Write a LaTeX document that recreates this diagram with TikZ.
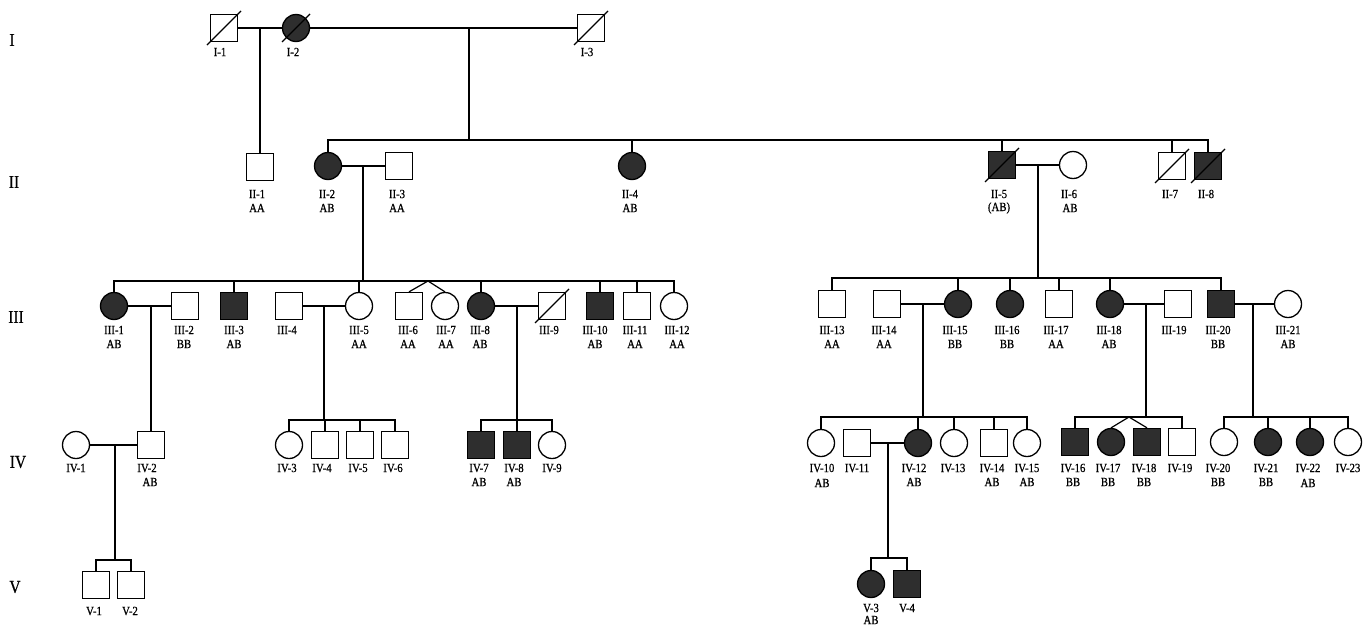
\documentclass[tikz,border=0pt]{standalone}
\usepackage{fontspec}
\setmainfont{Liberation Serif}[FakeStretch=0.86,FakeBold=0.6]
\begin{document}
\begin{tikzpicture}[x=1pt,y=-1pt,line width=1.2pt,
  msym/.style={draw,rectangle,minimum width=27pt,minimum height=27pt,inner sep=0pt,line width=1.3pt},
  fsym/.style={draw,circle,minimum size=27pt,inner sep=0pt,line width=1.3pt},
  aff/.style={fill=black!82},
  nm/.style={font=\fontsize{12.5}{13}\selectfont,inner sep=0pt},
  gt/.style={font=\fontsize{12.5}{13}\selectfont,inner sep=0pt},
  rowlab/.style={font=\fontsize{18}{19}\selectfont,inner sep=0pt},
  deadline/.style={line width=1.3pt}]
\useasboundingbox (0,0) rectangle (1368,627);
\fill[white] (0,0) rectangle (1368,627);

% ---- row labels
\node[rowlab] (rI)   at (12,40)  {I};
\node[rowlab] (rII)  at (14,182) {II};
\node[rowlab] (rIII) at (16,317) {III};
\node[rowlab] (rIV)  at (18,462) {IV};
\node[rowlab] (rV)   at (15,587) {V};

% ---- symbols
\foreach \n/\x/\y in {I1/224/28,I3/591/28,II1/260/167,II3/399/166,II7/1172/166,
  III2/185/306,III4/289/306,III6/409/306,III9/552/306,III11/637/306,
  III13/832/304,III14/887/304,III17/1059/304,III19/1178/304,
  IV2/151/445,IV4/325/445,IV5/360/445,IV6/395/445,IV11/857/443,IV14/994/443,IV19/1182/442,
  V1/96/585,V2/131/585}
  \node[msym] (\n) at (\x,\y) {};
\foreach \n/\x/\y in {II5/1002/165,II8/1208/166,III3/234/306,III10/600/306,III20/1221/304,
  IV7/481/445,IV8/517/445,IV16/1075/442,IV18/1147/442,V4/907/584}
  \node[msym,aff] (\n) at (\x,\y) {};
\foreach \n/\x/\y in {II6/1073/165,III5/359/306,III7/445/306,III12/674/306,III21/1288/304,
  IV1/76/445,IV3/289/445,IV9/552/445,IV10/821/443,IV13/954/443,IV15/1027/443,
  IV20/1224/442,IV23/1348/442}
  \node[fsym] (\n) at (\x,\y) {};
\foreach \n/\x/\y in {I2/296/28,II2/328/166,II4/632/166,III1/114/306,III8/481/306,
  III15/958/304,III16/1010/304,III18/1110/304,IV12/918/443,IV17/1111/442,
  IV21/1268/442,IV22/1310/442,V3/871/584}
  \node[fsym,aff] (\n) at (\x,\y) {};

% ---- deceased marks
\foreach \n in {I1,I3,II5,II7,II8,III9}
  \draw[deadline] ([shift={(-17,17)}]\n.center) -- ([shift={(17,-17)}]\n.center);
\draw[deadline] ([shift={(-14,14)}]I2.center) -- ([shift={(14,-14)}]I2.center);

% ---- marriage lines
\foreach \a/\b in {I1/I2,I2/I3,II2/II3,II5/II6,III1/III2,III4/III5,III8/III9,
  III14/III15,III18/III19,III20/III21,IV1/IV2,IV11/IV12}
  \draw (\a.east) -- (\b.west);

% ---- descent points
\coordinate (d1) at (260,28);
\coordinate (d2) at (469,28);
\coordinate (d3) at (363,166);
\coordinate (d4) at (1038,165);
\coordinate (d5) at (151,306);
\coordinate (d6) at (324,306);
\coordinate (d7) at (517,306);
\coordinate (d8) at (923,304);
\coordinate (d9) at (1146,304);
\coordinate (d10) at (1253,304);
\coordinate (d11) at (115,445);
\coordinate (d12) at (888,443);

\draw (d1) -- (II1.north);
\draw (d5) -- (IV2.north);

% generation II sibship
\coordinate (s2) at (469,140);
\draw (d2) -- (s2);
\draw (II2.north) -- (II2.north |- s2) -- (II8.north |- s2) -- (II8.north);
\foreach \k in {II4,II5,II7} \draw (\k.north) -- (\k.north |- s2);

% generation III left sibship
\coordinate (s3) at (363,281);
\draw (d3) -- (s3);
\draw (III1.north) -- (III1.north |- s3) -- (III12.north |- s3) -- (III12.north);
\foreach \k in {III3,III5,III8,III10,III11} \draw (\k.north) -- (\k.north |- s3);
\coordinate (t3) at (428,281);
\draw (III6.north) -- (t3) -- (III7.north);

% generation III right sibship
\coordinate (s4) at (1038,278);
\draw (d4) -- (s4);
\draw (III13.north) -- (III13.north |- s4) -- (III20.north |- s4) -- (III20.north);
\foreach \k in {III15,III16,III17,III18} \draw (\k.north) -- (\k.north |- s4);

% generation IV sibships
\coordinate (s5) at (324,420);
\draw (d6) -- (s5);
\draw (IV3.north) -- (IV3.north |- s5) -- (IV6.north |- s5) -- (IV6.north);
\foreach \k in {IV4,IV5} \draw (\k.north) -- (\k.north |- s5);

\coordinate (s6) at (517,420);
\draw (d7) -- (s6);
\draw (IV7.north) -- (IV7.north |- s6) -- (IV9.north |- s6) -- (IV9.north);
\draw (IV8.north) -- (IV8.north |- s6);

\coordinate (s7) at (923,417);
\draw (d8) -- (s7);
\draw (IV10.north) -- (IV10.north |- s7) -- (IV15.north |- s7) -- (IV15.north);
\foreach \k in {IV12,IV13,IV14} \draw (\k.north) -- (\k.north |- s7);

\coordinate (s8) at (1146,417);
\draw (d9) -- (s8);
\draw (IV16.north) -- (IV16.north |- s8) -- (IV19.north |- s8) -- (IV19.north);
\coordinate (t8) at (1129,417);
\draw (IV17.north) -- (t8) -- (IV18.north);

\coordinate (s9) at (1253,417);
\draw (d10) -- (s9);
\draw (IV20.north) -- (IV20.north |- s9) -- (IV23.north |- s9) -- (IV23.north);
\foreach \k in {IV21,IV22} \draw (\k.north) -- (\k.north |- s9);

% generation V sibships
\coordinate (s10) at (115,560);
\draw (d11) -- (s10);
\draw (V1.north) -- (V1.north |- s10) -- (V2.north |- s10) -- (V2.north);

\coordinate (s11) at (888,558);
\draw (d12) -- (s11);
\draw (V3.north) -- (V3.north |- s11) -- (V4.north |- s11) -- (V4.north);

% ---- identifiers
\foreach \n/\x/\y/\t in {lI1/220/52/I-1,lI2/293/52/I-2,lI3/587/52/I-3,
  lII1/257/194/II-1,lII2/327/194/II-2,lII3/397/194/II-3,lII4/630/194/II-4,
  lII5/999/194/II-5,lII6/1069/194/II-6,lII7/1170/194/II-7,lII8/1206/194/II-8,
  lIII1/114/330/III-1,lIII2/184/330/III-2,lIII3/234/330/III-3,lIII4/287/330/III-4,
  lIII5/359/330/III-5,lIII6/408/330/III-6,lIII7/446/330/III-7,lIII8/480/330/III-8,
  lIII9/549/330/III-9,lIII10/595/330/III-10,lIII11/635/330/III-11,lIII12/677/330/III-12,
  lIII13/832/330/III-13,lIII14/884/330/III-14,lIII15/955/330/III-15,lIII16/1007/330/III-16,
  lIII17/1056/330/III-17,lIII18/1109/330/III-18,lIII19/1174/330/III-19,lIII20/1218/330/III-20,
  lIII21/1288/330/III-21,
  lIV1/76/468/IV-1,lIV2/147/468/IV-2,lIV3/287/468/IV-3,lIV4/322/468/IV-4,lIV5/358/468/IV-5,
  lIV6/393/468/IV-6,lIV7/479/468/IV-7,lIV8/514/468/IV-8,lIV9/552/468/IV-9,
  lIV10/822/468/IV-10,lIV11/857/468/IV-11,lIV12/914/468/IV-12,lIV13/953/468/IV-13,
  lIV14/992/468/IV-14,lIV15/1027/468/IV-15,lIV16/1073/468/IV-16,lIV17/1108/468/IV-17,
  lIV18/1144/468/IV-18,lIV19/1180/468/IV-19,lIV20/1218/468/IV-20,lIV21/1266/468/IV-21,
  lIV22/1308/468/IV-22,lIV23/1348/468/IV-23,
  lV1/94/611/V-1,lV2/130/611/V-2,lV3/871/608/V-3,lV4/907/608/V-4}
  \node[nm] (\n) at (\x,\y) {\t};

% ---- genotypes
\foreach \n/\x/\y/\t in {gII1/257/208/AA,gII2/327/208/AB,gII3/397/208/AA,gII4/630/208/AB,
  gII5/999/208/(AB),gII6/1070/208/AB,
  gIII1/114/344/AB,gIII2/184/344/BB,gIII3/234/344/AB,gIII5/359/344/AA,gIII6/408/344/AA,
  gIII7/446/344/AA,gIII8/480/344/AB,gIII10/595/344/AB,gIII11/635/344/AA,gIII12/677/344/AA,
  gIII13/832/344/AA,gIII14/884/344/AA,gIII15/955/344/BB,gIII16/1007/344/BB,gIII17/1056/344/AA,
  gIII18/1109/344/AB,gIII20/1218/344/BB,gIII21/1288/344/AB,
  gIV2/150/482/AB,gIV7/479/482/AB,gIV8/514/482/AB,gIV10/822/483/AB,gIV12/914/482/AB,
  gIV14/992/482/AB,gIV15/1027/482/AB,gIV16/1073/482/BB,gIV17/1108/482/BB,gIV18/1144/482/BB,
  gIV20/1218/482/BB,gIV21/1266/482/BB,gIV22/1308/483/AB,
  gV3/871/620/AB}
  \node[gt] (\n) at (\x,\y) {\t};
\end{tikzpicture}
\end{document}
